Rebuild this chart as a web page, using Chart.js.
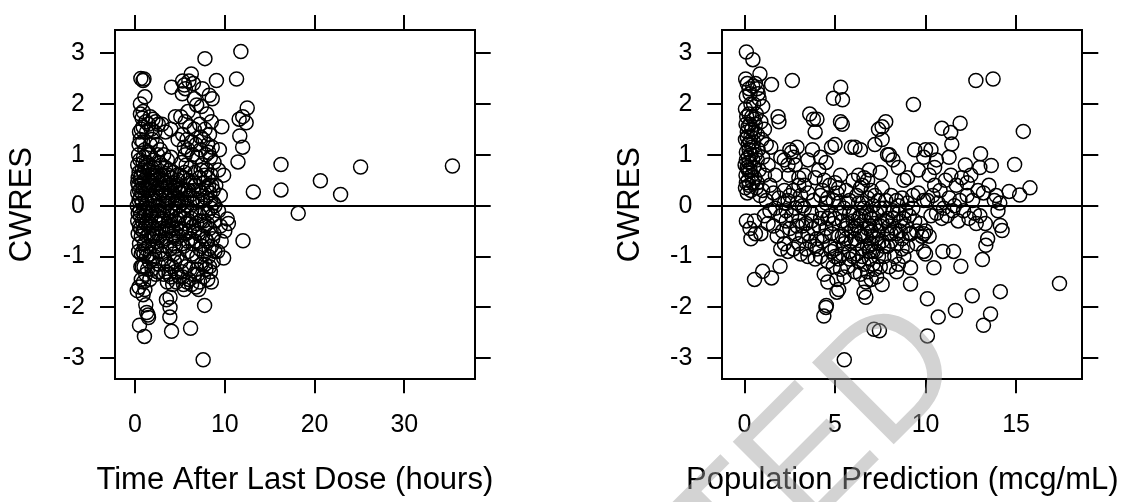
<!DOCTYPE html>
<html><head><meta charset="utf-8">
<script src="https://cdn.jsdelivr.net/npm/chart.js@4.4.1/dist/chart.umd.min.js"></script>
<style>
html,body{margin:0;padding:0;background:#fff;}
#wrap{position:relative;width:1130px;height:502px;overflow:hidden;background:#fff;}
canvas{position:absolute;top:0;}
</style></head><body>
<div id="wrap"><canvas id="c1" width="565" height="502" style="left:0"></canvas><canvas id="c2" width="565" height="502" style="left:565px"></canvas></div>
<script>
const cwresTicks = [-3, -2, -1, 0, 1, 2, 3];
const timeTicks = [0, 10, 20, 30];
const predTicks = [0, 5, 10, 15];
const cwresRange = [-3.413, 3.453];
const timeRange = [-2.23, 37.84];
const predRange = [-1.23, 18.66];
const timeTitle = 'Time After Last Dose (hours)';
const predTitle = 'Population Prediction (mcg/mL)';
const yTitle = 'CWRES';

// [time after last dose, CWRES]
const timeVsCwres = [
[0.25,-1.67],[0.45,-1.6],[0.5,-2.35],[0.35,-0.55],[0.3,-0.3],[0.25,0.0],[0.3,0.25],[0.35,0.55],[0.3,0.8],[0.4,1.0],[0.45,1.2],[0.5,1.45],[0.6,2.0],[0.65,2.5],[0.4,0.4],[0.5,-0.75],[0.55,-0.1],[0.6,0.15],[0.45,0.65],[0.6,-0.45],[0.7,-0.95],[0.55,0.9],[0.65,-1.2],
[0.9,2.46],[1.0,2.49],[1.1,2.14],[0.8,1.72],[1.2,1.65],[0.9,1.55],[1.3,1.45],[0.85,1.25],[1.1,1.1],[0.95,0.95],[1.25,0.85],[0.8,0.7],[1.4,0.6],[1.0,0.5],[0.9,0.35],[1.3,0.3],[1.1,0.15],[0.8,0.05],[1.4,-0.05],[1.0,-0.2],[1.2,-0.35],[0.9,-0.5],[1.35,-0.6],[1.05,-0.75],[0.85,-0.9],[1.3,-1.0],[1.0,-1.2],[1.2,-1.35],[0.95,-1.5],[1.4,-1.25],[0.9,-1.75],[1.3,-2.1],[1.05,-2.57],[1.45,-2.15],[1.5,-2.2],[1.2,-1.95],[0.8,-1.2],[1.5,0.4],[1.5,-0.8],[1.45,1.05],
[1.7,1.75],[2.0,1.7],[2.3,1.65],[1.8,1.5],[2.6,1.6],[1.9,1.3],[2.4,1.2],[2.8,1.1],[1.6,1.0],[2.1,0.9],[2.7,0.85],[1.8,0.75],[2.3,0.65],[2.9,0.6],[1.6,0.5],[2.0,0.4],[2.5,0.35],[2.9,0.25],[1.7,0.2],[2.2,0.1],[2.6,0.0],[1.9,-0.1],[2.4,-0.2],[2.8,-0.3],[1.6,-0.35],[2.1,-0.45],[2.5,-0.55],[1.8,-0.65],[2.3,-0.8],[2.7,-0.9],[1.7,-0.95],[2.0,-1.05],[2.6,-1.15],[1.9,-1.25],[2.3,-1.35],[2.1,0.55],[2.75,-0.6],[1.65,-1.45],
[3.2,1.0],[3.6,0.9],[4.0,0.95],[3.4,0.75],[3.8,0.7],[4.3,0.65],[4.7,0.6],[3.1,0.5],[3.5,0.45],[3.9,0.4],[4.4,0.35],[4.8,0.3],[3.3,0.2],[3.7,0.15],[4.1,0.1],[4.5,0.05],[4.9,0.0],[3.2,-0.1],[3.6,-0.15],[4.0,-0.2],[4.4,-0.3],[4.8,-0.35],[3.4,-0.45],[3.8,-0.5],[4.2,-0.6],[4.6,-0.65],[3.1,-0.7],[3.5,-0.8],[3.9,-0.85],[4.3,-0.95],[4.7,-1.0],[3.3,-1.05],[3.7,-1.15],[4.1,-1.2],[4.5,-1.3],[4.9,-1.4],[3.6,-1.5],[4.2,-1.55],[3.5,-1.85],[3.9,-1.8],[3.9,-2.0],[3.88,-2.19],[4.07,-2.47],[3.4,1.45],[4.0,1.5],[4.07,2.33],[4.5,1.75],[4.8,1.3],[4.6,-1.5],[3.0,1.6],
[5.3,2.45],[5.5,2.37],[5.6,2.3],[5.27,2.2],[6.0,2.45],[6.27,2.59],[6.5,2.4],[6.87,1.98],[5.1,1.75],[5.6,1.65],[6.1,1.55],[6.6,1.5],[5.3,1.4],[5.8,1.3],[6.3,1.25],[5.5,1.15],[5.9,1.1],[6.4,1.0],[6.9,0.95],[5.2,0.85],[5.7,0.8],[6.2,0.75],[6.7,0.65],[5.4,0.55],[5.9,0.5],[6.5,0.45],[5.1,0.35],[5.6,0.3],[6.1,0.2],[6.6,0.15],[5.3,0.05],[5.8,0.0],[6.3,-0.1],[6.8,-0.15],[5.5,-0.25],[6.0,-0.3],[6.5,-0.4],[5.2,-0.5],[5.7,-0.55],[6.2,-0.65],[6.7,-0.7],[5.4,-0.8],[5.9,-0.9],[6.4,-0.95],[6.9,-1.0],[5.1,-1.1],[5.6,-1.2],[6.1,-1.25],[6.6,-1.35],[5.3,-1.4],[5.8,-1.5],[6.3,-1.55],[5.5,-1.65],[6.8,-1.6],[6.19,-2.41],[6.6,2.1],[5.9,1.85],
[7.79,2.89],[9.07,2.46],[8.27,2.17],[8.6,2.1],[7.5,2.3],[8.0,1.8],[7.4,1.95],[8.5,1.65],[7.2,1.6],[7.8,1.5],[8.3,1.4],[7.6,1.3],[8.1,1.2],[8.6,1.15],[7.3,1.1],[7.9,1.0],[8.4,0.95],[8.8,0.85],[7.5,0.8],[8.0,0.7],[8.5,0.6],[7.2,0.55],[7.7,0.45],[8.2,0.4],[8.7,0.3],[7.4,0.25],[7.9,0.15],[8.4,0.1],[8.9,0.0],[7.6,-0.05],[8.1,-0.15],[8.6,-0.2],[7.3,-0.3],[7.8,-0.4],[8.3,-0.45],[8.8,-0.55],[7.5,-0.6],[8.0,-0.7],[8.5,-0.8],[7.2,-0.85],[7.7,-0.95],[8.2,-1.0],[8.7,-1.1],[7.4,-1.15],[7.9,-1.25],[8.4,-1.3],[7.6,-1.4],[8.1,-1.45],[7.0,-1.35],[8.5,-1.5],[7.59,-3.03],[7.75,-1.96],[7.1,-1.65],[8.9,-0.9],[9.0,0.4],
[9.67,1.55],[9.87,0.6],[10.27,-0.26],[9.87,-1.03],[9.5,-0.4],[9.3,0.7],[9.6,-0.7],[10.0,-0.5],[9.3,-0.1],[9.5,0.2],[10.4,-0.35],[9.2,-0.9],[9.4,1.1],
[11.79,3.03],[11.31,2.49],[12.5,1.92],[12.38,1.63],[12.0,1.75],[11.6,1.7],[11.67,1.37],[11.99,1.15],[11.47,0.86],[12.03,-0.69],
[13.18,0.27],[16.26,0.81],[16.26,0.31],[18.18,-0.15],[20.65,0.49],[22.9,0.22],[25.13,0.76],[35.36,0.78],
[0.5,0.3],[0.7,0.6],[0.6,-0.2],[0.8,0.45],[1.1,0.75],[1.2,-0.15],[1.6,0.3],[1.8,-0.2],[2.0,0.2],[2.2,-0.6],[2.4,0.5],[2.6,-0.35],[2.8,0.45],[3.0,-0.25],[3.0,0.3],[3.2,0.6],[3.4,0.0],[3.6,0.35],[3.8,-0.3],[4.0,0.55],[4.2,-0.1],[4.4,0.2],[4.6,-0.45],[4.8,0.5],[5.0,-0.2],[5.0,0.6],[2.2,-1.0],[3.0,-0.95],[3.4,-1.3],[4.0,-1.4],[0.7,1.5],[0.6,1.8],[1.7,1.2],[2.5,1.0],[4.5,-0.8],[1.0,-0.95],[0.4,-0.9],
[0.3,0.45],[0.35,-0.15],[0.45,0.1],[0.5,-0.4],[0.6,0.55],[0.7,-0.6],[0.75,0.25],[0.8,-0.3],[0.9,0.85],[0.95,-0.05],[1.0,0.65],[1.05,-0.45],[1.15,0.35],[1.2,-0.85],[1.3,0.05],[1.35,-0.3],[1.45,0.8],[1.55,-0.55],[1.6,0.7],[1.7,-0.15],[1.75,0.45],[1.85,-0.4],[1.9,0.6],[2.0,-0.6],[2.05,0.0],[2.15,0.75],[2.25,-0.3],[2.35,0.25],[2.45,-0.7],[2.55,0.6],[2.65,-0.1],[2.75,0.15],[2.85,-0.45],[2.95,0.8],[3.05,-0.5],[3.15,0.1],[3.25,-0.3],[3.35,0.45],[3.45,-0.65],[3.55,0.05],[3.65,0.6],[3.75,-0.4],[3.85,0.25],[3.95,-0.1],[4.05,0.3],[4.15,-0.45],[4.25,0.45],[4.35,-0.75],[4.45,-0.05],[4.55,0.4],[4.65,-0.25],[4.75,0.15],[4.85,-0.6],[4.95,0.25],[5.05,-0.45],[5.15,0.1],[5.25,-0.75],[5.35,0.3],[5.45,-0.1],[5.55,0.65],[5.65,-0.35],[5.75,0.15],[5.85,-0.7],[5.95,0.3],[6.05,-0.5],[6.15,0.45],[6.25,-0.25],[6.35,0.05],[6.45,-0.75],[6.55,0.3],[6.65,-0.5],[6.75,0.4],[6.85,-0.35],[6.95,0.1],[7.05,-0.55],[7.15,0.3],[7.25,-0.2],[7.35,0.7],[7.45,-0.8],[7.55,0.1],[7.65,-0.3],[7.75,0.6],[7.85,-0.65],[7.95,0.35],[8.05,-0.35],[8.15,0.55],[8.25,-0.85],[8.35,0.25],[8.45,-0.05],[8.55,0.4],[8.65,-0.65],[8.75,0.05],[8.85,-0.3],[0.6,1.3],[0.9,1.85],[1.5,1.6],[2.2,1.45],[0.7,-1.45],[1.1,-1.65],[1.6,-1.1],[2.5,-1.3],[3.2,-1.35],[3.8,-1.35],[4.4,-1.1],[5.2,-1.3],[6.0,-1.45],[6.9,-1.25],[7.8,-1.15],[8.3,-1.2],[7.3,1.35],[8.2,1.05],[5.6,1.0],[6.8,1.2],[5.4,-1.55],[7.2,-1.5]
];

// [population prediction, CWRES]
const predVsCwres = [
[0.1,3.02],[0.06,2.49],[0.1,2.15],[0.05,1.9],[0.12,1.75],[0.08,1.6],[0.15,1.45],[0.05,1.3],[0.2,1.2],[0.1,1.05],[0.03,0.8],[0.15,0.75],[0.08,0.6],[0.2,0.5],[0.05,0.35],[0.15,0.25],[0.25,0.85],[0.3,1.6],[0.3,2.2],[0.35,1.0],[0.4,0.6],[0.25,0.4],[0.35,1.35],[0.46,2.87],[0.45,2.35],[0.5,2.0],[0.5,1.7],[0.45,0.9],[0.55,0.55],[0.5,1.25],[0.1,-0.3],[0.3,-0.45],[0.35,-0.65],[0.55,-0.3],[0.6,-0.55],[0.55,-1.45],
[0.85,2.59],[0.7,2.3],[0.8,2.1],[1.0,1.95],[0.65,1.8],[0.9,1.65],[1.1,1.5],[0.7,1.4],[0.95,1.3],[1.2,1.2],[0.75,1.1],[1.0,0.95],[1.3,0.8],[0.8,0.7],[1.1,0.6],[0.7,0.45],[1.4,0.4],[1.0,0.3],[1.2,0.1],[1.4,-0.1],[1.1,-0.2],[1.3,-0.35],[1.49,2.38],[1.0,-1.29],[1.49,-1.42],[0.9,-0.55],[1.45,1.15],[0.85,0.2],
[1.85,1.75],[1.9,1.65],[2.0,0.95],[2.2,0.9],[1.7,0.6],[2.4,0.8],[1.6,0.25],[1.9,0.15],[2.2,0.3],[2.4,0.1],[1.7,-0.05],[2.0,-0.2],[2.3,-0.1],[1.6,-0.4],[2.1,-0.5],[2.5,-0.45],[1.8,-0.6],[2.2,-0.75],[2.0,-0.85],[2.4,-0.9],[1.96,-1.19],[2.64,2.46],[2.5,1.1],[2.45,0.6],
[2.6,1.05],[2.7,0.95],[2.9,1.15],[2.8,0.8],[3.0,0.55],[3.3,0.4],[2.7,0.3],[3.1,0.2],[3.5,0.25],[3.8,0.1],[2.9,0.05],[3.3,-0.05],[3.7,-0.15],[2.6,-0.2],[3.0,-0.3],[3.4,-0.35],[3.8,-0.45],[2.8,-0.55],[3.2,-0.6],[3.6,-0.7],[3.9,-0.8],[2.7,-0.85],[3.1,-0.95],[3.5,-1.0],[3.9,-1.05],[3.6,1.8],[3.8,1.7],[3.9,1.45],[3.5,0.9],[3.75,1.1],[3.3,0.6],[3.9,0.55],[3.0,-0.75],
[4.0,1.7],[4.2,0.95],[4.5,0.85],[4.8,1.15],[5.0,1.2],[4.1,0.7],[4.4,0.5],[4.7,0.4],[5.0,0.45],[5.3,0.6],[5.6,0.3],[4.2,0.2],[4.6,0.15],[4.9,0.1],[5.2,0.05],[5.5,-0.05],[5.8,0.1],[4.3,-0.1],[4.7,-0.2],[5.0,-0.25],[5.4,-0.3],[5.7,-0.35],[4.1,-0.4],[4.5,-0.45],[4.8,-0.55],[5.2,-0.6],[5.6,-0.65],[5.9,-0.5],[4.3,-0.7],[4.7,-0.8],[5.0,-0.85],[5.4,-0.95],[5.8,-0.9],[4.2,-1.0],[4.6,-1.1],[4.9,-1.2],[5.3,-1.25],[5.7,-1.2],[4.4,-1.35],[4.6,-1.5],[5.1,-1.45],[5.2,-1.65],[5.5,-1.4],[4.52,-1.96],[4.38,-2.17],[4.5,-2.0],[4.91,2.11],[5.31,2.33],[5.41,2.08],[5.3,1.65],[5.4,1.6],[5.9,1.15],[5.51,-3.03],[5.1,-1.7],
[6.1,1.15],[6.3,0.6],[6.5,0.4],[6.8,0.5],[7.0,0.3],[7.2,1.2],[7.4,1.5],[7.6,1.55],[7.8,1.65],[7.6,1.3],[7.9,1.0],[6.2,0.2],[6.5,0.05],[6.8,0.15],[7.1,0.0],[7.4,0.1],[7.7,-0.05],[6.0,-0.15],[6.3,-0.25],[6.6,-0.3],[6.9,-0.2],[7.2,-0.35],[7.5,-0.4],[7.8,-0.3],[6.1,-0.45],[6.4,-0.55],[6.7,-0.6],[7.0,-0.5],[7.3,-0.65],[7.6,-0.7],[7.9,-0.55],[6.2,-0.75],[6.5,-0.85],[6.8,-0.8],[7.1,-0.9],[7.4,-0.75],[7.7,-1.0],[6.0,-1.0],[6.3,-1.1],[6.6,-1.15],[6.9,-1.05],[7.2,-1.25],[7.5,-1.2],[6.4,-1.35],[6.7,-1.5],[7.0,-1.45],[7.3,-1.4],[7.6,-1.55],[6.6,-1.7],[6.7,-1.8],[7.15,-2.43],[7.45,-2.46],[6.9,0.7],[7.5,0.65],[6.4,1.1],[7.6,0.35],
[8.0,1.0],[8.2,0.9],[8.5,0.75],[8.8,0.5],[9.33,1.99],[9.4,1.1],[9.6,0.7],[9.9,0.95],[8.1,0.2],[8.4,0.1],[8.7,0.15],[9.0,0.05],[9.3,0.2],[9.6,0.25],[9.9,0.1],[8.2,-0.1],[8.5,-0.15],[8.8,-0.25],[9.1,-0.2],[9.4,-0.3],[9.7,-0.35],[8.0,-0.4],[8.3,-0.45],[8.6,-0.5],[8.9,-0.4],[9.2,-0.55],[9.5,-0.5],[9.8,-0.6],[8.1,-0.7],[8.4,-0.75],[8.7,-0.85],[9.0,-0.8],[9.9,-0.55],[8.3,-1.0],[8.5,-1.15],[8.8,-1.0],[9.17,-1.22],[9.17,-1.54],[8.4,-1.3],[8.0,-1.2],[9.9,-0.9],[9.0,0.55],
[10.0,1.1],[10.3,1.1],[10.6,0.9],[10.9,1.52],[11.39,1.44],[11.45,1.21],[11.91,1.62],[10.2,0.6],[10.5,0.4],[10.8,0.3],[11.1,0.5],[11.4,0.6],[11.7,0.4],[12.0,0.55],[10.1,0.1],[10.4,0.2],[10.7,0.05],[11.0,-0.05],[11.3,0.15],[11.6,0.0],[11.9,0.1],[10.3,-0.2],[10.6,-0.15],[10.9,-0.25],[11.2,-0.2],[11.5,-0.1],[11.8,-0.3],[10.0,-0.5],[10.2,-0.6],[10.96,-0.9],[11.55,-0.9],[11.95,-1.19],[10.46,-1.22],[10.1,-1.83],[10.1,-2.56],[10.7,-2.19],[11.65,-2.06],[10.0,-0.95],[11.3,0.95],[10.5,0.75],
[12.2,0.8],[12.5,0.6],[12.78,2.46],[13.73,2.49],[13.04,1.02],[13.63,0.79],[13.0,0.75],[12.3,0.2],[12.6,0.1],[12.9,0.3],[13.2,0.25],[13.5,0.4],[13.8,0.1],[14.1,0.05],[12.1,-0.1],[12.4,-0.25],[12.7,-0.15],[13.0,-0.2],[13.3,-0.35],[14.0,-0.1],[14.13,-0.39],[14.23,-0.49],[13.33,-0.78],[13.43,-0.65],[13.14,-1.06],[12.58,-1.77],[13.2,-2.35],[13.59,-2.13],[14.13,-1.69],[12.3,0.45],[13.9,0.2],[12.8,-0.35],
[14.62,0.28],[14.92,0.81],[15.2,0.21],[15.4,1.46],[15.77,0.35],[17.4,-1.53],
[0.2,0.95],[0.25,1.8],[0.15,2.4],[0.35,0.3],[0.4,1.5],[0.3,0.7],[0.6,1.0],[0.65,0.35],[5.2,0.35],[5.8,-0.15],[6.2,-0.4],[6.6,-0.05],[7.0,-0.75],[6.4,0.35],[5.5,-0.75],[4.9,-0.35],[6.9,-0.4],[7.3,-0.15],[8.6,-0.3],[6.0,0.5],[6.6,0.55],[4.4,-0.6],[3.5,-0.55],[6.5,-1.0],[7.9,-0.8],[3.2,0.0],[2.8,-0.05],[2.2,0.05],[5.0,-1.0],[6.1,-1.3],[7.1,-1.15],
[0.1,0.45],[0.2,0.7],[0.1,0.9],[0.25,1.1],[0.15,1.35],[0.3,1.25],[0.2,1.55],[0.4,1.75],[0.35,2.0],[0.25,2.3],[0.4,1.15],[0.5,0.75],[0.55,1.45],[0.45,0.45],[0.6,1.6],[0.7,0.9],[0.75,2.2],[0.6,2.4],[4.3,0.3],[4.6,-0.25],[4.8,-0.9],[5.1,0.25],[5.3,-0.15],[5.4,-0.6],[5.6,-0.45],[5.7,0.05],[5.9,-0.7],[6.0,-0.3],[6.2,-0.95],[6.3,0.05],[6.4,-0.2],[6.5,-0.6],[6.7,-0.15],[6.8,-0.45],[6.9,-0.9],[7.0,-0.25],[7.1,-0.6],[7.2,0.2],[7.3,-0.9],[7.4,-0.5],[7.5,-0.05],[7.6,-0.35],[7.7,-0.8],[7.8,0.1],[7.9,-0.25],[8.1,-0.55],[8.2,-0.25],[8.4,-0.55],[8.5,0.0],[8.7,-0.65],[8.9,-0.1],[9.1,-0.55],[9.3,-0.05],[9.5,-0.75],[3.4,-0.85],[3.7,-0.3],[3.2,-0.4],[2.9,-0.4],[4.0,-0.65],[4.2,-0.25],[6.1,-0.65],[5.2,-1.05],[6.8,-1.3],[7.4,-1.0],[5.8,-1.05],[4.0,-0.85],[3.0,0.4],[2.5,0.2],[2.3,-0.3],[4.5,0.05]
];

const fontStack = "'Liberation Sans', Arial, Helvetica, sans-serif";
Chart.defaults.font.family = fontStack;
Chart.defaults.color = '#000';

function setTicks(list) { return s => { s.ticks = list.map(v => ({ value: v })); }; }

// draws the x-axis title without the chart-area width limit that would squeeze it
function xTitlePlugin(text) {
  return {
    id: 'xTitle',
    afterDraw(chart) {
      const ctx = chart.ctx, area = chart.chartArea;
      ctx.save();
      ctx.font = '31px ' + fontStack;
      ctx.fillStyle = '#000';
      ctx.textAlign = 'center';
      ctx.textBaseline = 'alphabetic';
      ctx.fillText(text, (area.left + area.right) / 2, 489.3);
      ctx.restore();
    }
  };
}

function panel(id, points, xTicks, xRange, xTitle, box, yTitlePad, extra) {
  const W = 565, H = 502;
  const left = box[0], right = box[1], top = box[2], bottom = box[3];
  const edge = { display: true, color: '#000', width: 2 };
  const tickFont = { size: 25, family: fontStack };
  const titleFont = { size: 31, family: fontStack };
  const markGrid = len => ({ drawOnChartArea: false, drawTicks: true, tickLength: len, lineWidth: 2, tickWidth: 2, color: '#000', tickColor: '#000' });
  return new Chart(document.getElementById(id), {
    type: 'scatter',
    data: { datasets: [{
      data: points.map(p => ({ x: p[0], y: p[1] })),
      pointStyle: 'circle', pointRadius: 7, pointHoverRadius: 7,
      borderWidth: 1.5, borderColor: '#000', pointBorderColor: '#000',
      backgroundColor: 'rgba(0,0,0,0)', pointBackgroundColor: 'rgba(0,0,0,0)'
    }] },
    options: {
      responsive: false, animation: false, devicePixelRatio: 1, events: [],
      layout: { padding: 0 },
      plugins: { legend: { display: false }, tooltip: { enabled: false } },
      scales: {
        x: {
          type: 'linear', position: 'bottom', min: xRange[0], max: xRange[1],
          afterBuildTicks: setTicks(xTicks), afterFit: s => { s.height = H - bottom; },
          grid: markGrid(14), border: edge,
          ticks: { font: tickFont, color: '#000', padding: 17, maxRotation: 0, autoSkip: false },
          title: { display: false }
        },
        x2: {
          type: 'linear', position: 'top', min: xRange[0], max: xRange[1],
          afterBuildTicks: setTicks(xTicks), afterFit: s => { s.height = top; },
          grid: markGrid(15), border: edge, ticks: { display: false }
        },
        y: {
          type: 'linear', position: 'left', min: cwresRange[0], max: cwresRange[1],
          afterBuildTicks: setTicks(cwresTicks), afterFit: s => { s.width = left; },
          grid: { drawOnChartArea: true, drawTicks: true, tickLength: 15, lineWidth: 2, tickWidth: 2,
                  color: c => (c.tick && c.tick.value === 0) ? '#000' : 'rgba(0,0,0,0)', tickColor: '#000' },
          border: edge,
          ticks: { font: tickFont, color: '#000', padding: 15, autoSkip: false },
          title: { display: true, text: yTitle, font: titleFont, color: '#000', padding: { top: yTitlePad, bottom: 0 } }
        },
        y2: {
          type: 'linear', position: 'right', min: cwresRange[0], max: cwresRange[1],
          afterBuildTicks: setTicks(cwresTicks), afterFit: s => { s.width = W - right; },
          grid: markGrid(16), border: edge, ticks: { display: false }
        }
      }
    },
    plugins: [xTitlePlugin(xTitle)].concat(extra || [])
  });
}

const watermark = {
  id: 'watermark',
  afterDraw(chart) {
    const ctx = chart.ctx;
    ctx.save();
    ctx.font = "168px " + fontStack;
    ctx.fillStyle = 'rgba(157,157,157,0.45)';
    ctx.textBaseline = 'alphabetic';
    ctx.textAlign = 'left';
    ctx.translate(319, 454);
    ctx.rotate(-Math.PI / 4);
    const lead = ctx.measureText('TE').width;
    ctx.fillText('TED', -lead, 0);
    ctx.restore();
  }
};

panel('c1', timeVsCwres, timeTicks, timeRange, timeTitle, [115, 474.7, 20, 379.3], 4);
panel('c2', predVsCwres, predTicks, predRange, predTitle, [157.3, 517.3, 20, 379.3], 46.4, [watermark]);
</script>
</body></html>
